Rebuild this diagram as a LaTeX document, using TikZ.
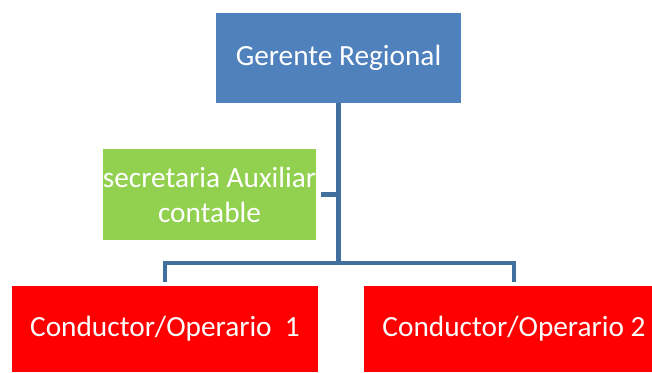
\documentclass[tikz,border=0pt]{standalone}
\usepackage{fontspec}
\setmainfont{Carlito}
\usepackage{tikz}
\definecolor{boxblue}{HTML}{4F81BD}
\definecolor{boxgreen}{HTML}{92D050}
\definecolor{boxred}{HTML}{FF0000}
\definecolor{linkblue}{HTML}{41709F}

\begin{document}
\begin{tikzpicture}[x=1pt,y=-1pt,
	unit/.style = {inner sep=0pt, text=white, font=\fontsize{29.3}{35}\selectfont, align=center},
	link/.style = {draw=linkblue, line width=4.5pt}]
	\useasboundingbox (0,0) rectangle (652,372);
	\node [unit, fill=boxblue, minimum width=245pt, minimum height=90pt] (boss) at (338.5,58) {Gerente Regional};
	\node [unit, fill=boxgreen, minimum width=213pt, minimum height=91pt] (sec) at (209.5,194.5) {secretaria Auxiliar\\contable};
	\node [unit, fill=boxred, minimum width=306pt, minimum height=86pt] (op1) at (165,329) {Conductor/Operario\ \ 1};
	\node [unit, fill=boxred, minimum width=300pt, minimum height=86pt] (op2) at (514,329) {Conductor/Operario 2};
	\coordinate (bar) at (338.5,263);
	\draw [link] (boss.south) -- (bar);
	\draw [link, shorten >=4pt] (bar) -| (op1.north);
	\draw [link, shorten >=4pt] (bar) -| (op2.north);
	\draw [link, shorten <=5pt] (sec.east) -- (sec.east -| boss.south);
\end{tikzpicture}
\end{document}
